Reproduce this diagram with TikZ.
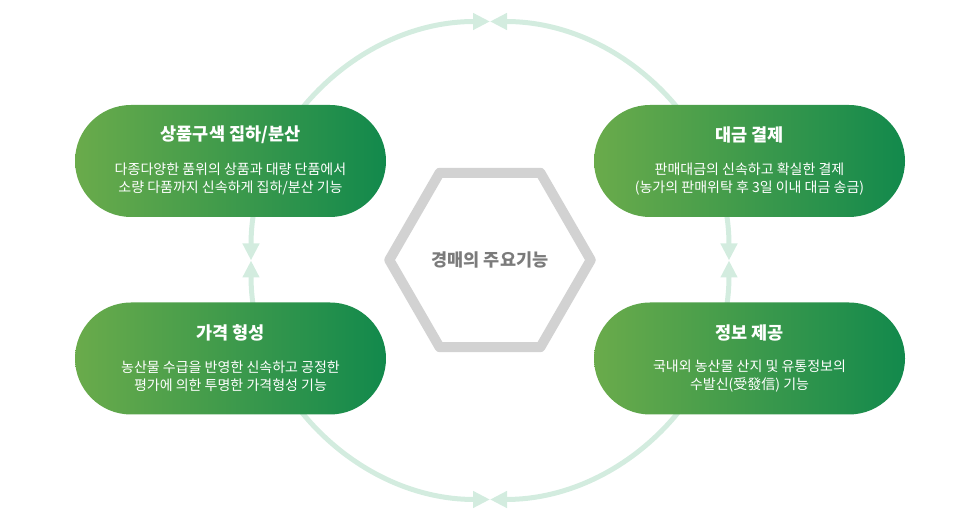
\documentclass[tikz,border=0pt]{standalone}
\usepackage{fontspec}
\setmainfont{Noto Sans CJK KR}
\usetikzlibrary{arrows.meta,shapes.geometric}
\definecolor{ringmint}{HTML}{D3ECDF}
\definecolor{pillleft}{HTML}{6AAB4B}
\definecolor{pillmid}{HTML}{1E9549}
\definecolor{pillright}{HTML}{12894C}
\definecolor{hexgray}{HTML}{D2D2D2}
\definecolor{hextext}{HTML}{7B7B7B}

\begin{document}
\begin{tikzpicture}[x=1pt,y=1pt,
  ring/.style={draw=ringmint,line width=5pt,{Triangle[length=17pt,width=16pt]}-{Triangle[length=17pt,width=16pt]}},
  pill/.style={rounded corners=56pt,minimum width=311pt,minimum height=112pt,left color=pillleft,middle color=pillmid,right color=pillright},
  ttl/.style={text=white,font=\bfseries\fontsize{17.5}{20}\selectfont},
  bdy/.style={text=white,align=center,font=\fontsize{14}{18}\selectfont},
  hexa/.style={regular polygon,regular polygon sides=6,minimum size=197pt,draw=hexgray,line width=10pt,line join=round,text=hextext,font=\bfseries\fontsize{17.5}{20}\selectfont}]
\useasboundingbox (0,0) rectangle (979,518);

% ring with the arrows
\coordinate (n) at (490,496.5);
\coordinate (s) at (490,18.5);
\draw[ring] (n) arc[start angle=90,end angle=180,radius=239] coordinate (w);
\draw[ring] (n) arc[start angle=90,end angle=0,radius=239] coordinate (e);
\draw[ring] (s) arc[start angle=270,end angle=180,radius=239];
\draw[ring] (s) arc[start angle=270,end angle=360,radius=239];

% centre
\node[hexa] (hub) at (490,258) {경매의 주요기능};

% four functions
\node[pill] (tl) at (230.5,357) {};
\node[pill] (tr) at (749.5,357) {};
\node[pill] (bl) at (230.5,159.5) {};
\node[pill] (br) at (749.5,159.5) {};

\node[ttl] (tlt) at ([yshift=26]tl.center) {상품구색 집하/분산};
\node[bdy] (tlb) at ([yshift=-18]tl.center) {다종다양한 품위의 상품과 대량 단품에서\\소량 다품까지 신속하게 집하/분산 기능};
\node[ttl] (trt) at ([yshift=26]tr.center) {대금 결제};
\node[bdy] (trb) at ([yshift=-18]tr.center) {판매대금의 신속하고 확실한 결제\\(농가의 판매위탁 후 3일 이내 대금 송금)};
\node[ttl] (blt) at ([yshift=26]bl.center) {가격 형성};
\node[bdy] (blb) at ([yshift=-18]bl.center) {농산물 수급을 반영한 신속하고 공정한\\평가에 의한 투명한 가격형성 기능};
\node[ttl] (brt) at ([yshift=26]br.center) {정보 제공};
\node[bdy] (brb) at ([yshift=-18]br.center) {국내외 농산물 산지 및 유통정보의\\수발신(受發信) 기능};
\end{tikzpicture}
\end{document}
